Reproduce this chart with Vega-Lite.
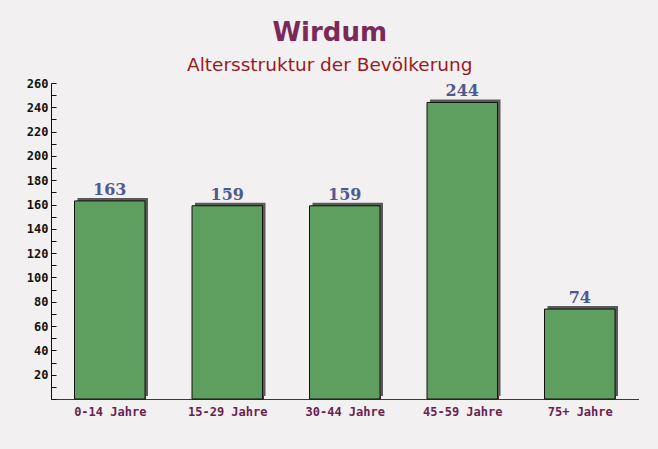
{
  "$schema": "https://vega.github.io/schema/vega-lite/v6.json",
  "width": 587.5,
  "height": 316,
  "autosize": {"type": "none"},
  "padding": {"left": 51, "top": 83, "right": 19.5, "bottom": 50},
  "background": "#f3f0f2",
  "title": {
    "text": "Wirdum",
    "subtitle": "Altersstruktur der Bevölkerung",
    "anchor": "middle",
    "frame": "group",
    "dx": -15,
    "offset": 3,
    "font": "DejaVu Sans",
    "fontSize": 26,
    "fontWeight": "bold",
    "color": "#7a2a58",
    "subtitleFont": "DejaVu Sans",
    "subtitleFontSize": 18.5,
    "subtitleColor": "#9a1a1e",
    "subtitlePadding": 10
  },
  "data": {
    "values": [
      {"gruppe": "0-14 Jahre", "anzahl": 163},
      {"gruppe": "15-29 Jahre", "anzahl": 159},
      {"gruppe": "30-44 Jahre", "anzahl": 159},
      {"gruppe": "45-59 Jahre", "anzahl": 244},
      {"gruppe": "75+ Jahre", "anzahl": 74}
    ]
  },
  "encoding": {
    "x": {
      "field": "gruppe",
      "type": "nominal",
      "sort": null,
      "scale": {"paddingInner": 0.4, "paddingOuter": 0.2},
      "axis": {
        "title": null,
        "labelAngle": 0,
        "labelFont": "DejaVu Sans Mono",
        "labelFontSize": 12,
        "labelFontWeight": "bold",
        "labelColor": "#6b1f4f",
        "labelPadding": 12,
        "domainColor": "#6b2040",
        "domainWidth": 1,
        "tickBand": "extent",
        "tickColor": "#6b2040",
        "tickSize": -5
      }
    },
    "y": {
      "field": "anzahl",
      "type": "quantitative",
      "scale": {"domain": [0, 260], "nice": false},
      "axis": {
        "title": null,
        "grid": false,
        "values": [0,10,20,30,40,50,60,70,80,90,100,110,120,130,140,150,160,170,180,190,200,210,220,230,240,250,260],
        "labelExpr": "datum.value % 20 == 0 && datum.value > 0 ? datum.label : ''",
        "labelFont": "DejaVu Sans Mono",
        "labelFontSize": 12,
        "labelFontWeight": "bold",
        "labelColor": "#111111",
        "labelPadding": 8,
        "domainColor": "#111111",
        "tickColor": "#111111",
        "tickSize": -5
      }
    }
  },
  "layer": [
    {
      "mark": {"type": "bar", "color": "#5a5a5a", "xOffset": 3, "yOffset": -3, "y2Offset": -3, "x2Offset": 3}
    },
    {
      "mark": {"type": "bar", "color": "#5e9e5e", "stroke": "#111111", "strokeWidth": 1}
    },
    {
      "mark": {
        "type": "text",
        "baseline": "alphabetic",
        "dy": -6,
        "font": "DejaVu Serif",
        "fontWeight": "bold",
        "fontSize": 16,
        "color": "#4f5a8c"
      },
      "encoding": {"text": {"field": "anzahl", "type": "quantitative"}}
    }
  ],
  "config": {"view": {"stroke": null}}
}
